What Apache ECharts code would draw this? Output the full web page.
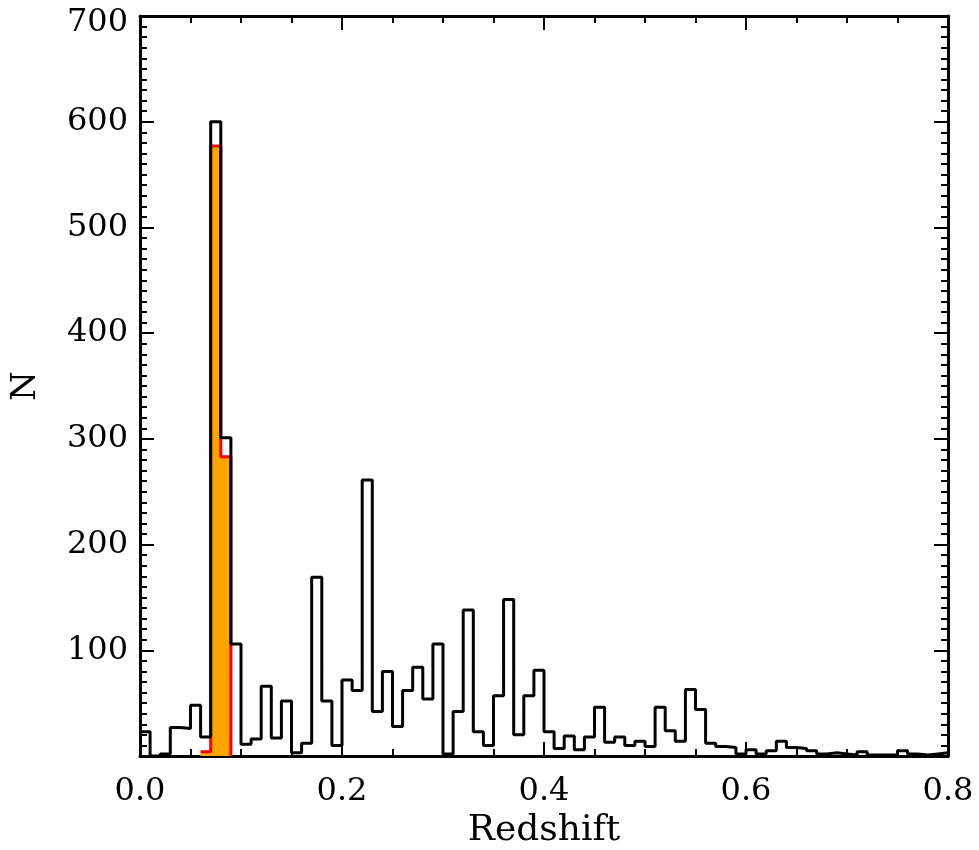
<!DOCTYPE html>
<html>
<head>
<meta charset="utf-8">
<script src="https://cdn.jsdelivr.net/npm/echarts@6/dist/echarts.min.js"></script>
<style>
html,body{margin:0;padding:0;background:#fff;}
#chart{width:979px;height:850px;}
</style>
</head>
<body>
<div id="chart"></div>
<script>
// Histogram bins: left edges start at binStart, width binWidth
const binStart = 0.0;
const binWidth = 0.01;
const allCounts = [
  23, 0, 2, 27, 26, 48, 18, 600, 301, 106,
  11, 16, 66, 17, 52, 3, 12, 169, 52, 10,
  72, 62, 261, 42, 80, 28, 62, 84, 54, 106,
  2, 42, 138, 23, 10, 57, 148, 20, 57, 81,
  23, 7, 19, 6, 18, 46, 13, 18, 10, 14,
  9, 46, 24, 14, 63, 44, 12, 9, 8, 2,
  6, 2, 5, 14, 8, 7, 5, 2, 3, 2,
  1, 4, 1, 1, 1, 5, 2, 1, 2, 3
];
// Highlighted subset (orange fill, red outline)
const subsetStart = 0.06;
const subsetCounts = [4, 577, 283];
// Axis settings
const xTicks = [0.0, 0.2, 0.4, 0.6, 0.8];
const yTicks = [0, 100, 200, 300, 400, 500, 600, 700];

function stepData(start, width, counts, closeToZero) {
  const d = counts.map((v, i) => [+(start + i * width).toFixed(4), v]);
  const endX = +(start + counts.length * width).toFixed(4);
  d.push([endX, counts[counts.length - 1]]);
  if (closeToZero) d.push([endX, 0]);
  return d;
}

const FONT = 'DejaVu Serif';
const chart = echarts.init(document.getElementById('chart'), null, {renderer: 'canvas'});

const axisCommonX = {
  type: 'value',
  min: xTicks[0],
  max: xTicks[xTicks.length - 1],
  interval: 0.2,
  axisLine: {show: true, onZero: false, lineStyle: {color: '#000', width: 3}},
  axisTick: {show: true, inside: true, length: 14, lineStyle: {color: '#000', width: 2}},
  minorTick: {show: true, splitNumber: 4, length: 7, lineStyle: {color: '#000', width: 2}},
  splitLine: {show: false},
  minorSplitLine: {show: false}
};
const axisCommonY = {
  type: 'value',
  min: yTicks[0],
  max: yTicks[yTicks.length - 1],
  interval: 100,
  axisLine: {show: true, onZero: false, lineStyle: {color: '#000', width: 3}},
  axisTick: {show: true, inside: true, length: 14, lineStyle: {color: '#000', width: 2}},
  minorTick: {show: true, splitNumber: 10, length: 7, lineStyle: {color: '#000', width: 2}},
  splitLine: {show: false},
  minorSplitLine: {show: false}
};

const yMax = yTicks[yTicks.length - 1];

const option = {
  animation: false,
  backgroundColor: '#fff',
  grid: {left: 140, right: 31, top: 16, bottom: 94, containLabel: false, outerBoundsMode: 'none'},
  xAxis: [
    Object.assign({}, axisCommonX, {
      position: 'bottom',
      axisLabel: {show: true, formatter: v => v.toFixed(1), fontFamily: FONT, fontSize: 32, color: '#000', margin: 20},
      name: 'Redshift',
      nameLocation: 'middle',
      nameGap: 51,
      nameTextStyle: {fontFamily: FONT, fontSize: 36, color: '#000'}
    }),
    Object.assign({}, axisCommonX, {
      position: 'top',
      axisLabel: {show: false}
    })
  ],
  yAxis: [
    Object.assign({}, axisCommonY, {
      position: 'left',
      axisLabel: {
        show: true,
        formatter: v => (v === 0 ? '' : (v === yMax ? '{t|' + v + '}' : String(v))),
        fontFamily: FONT, fontSize: 32, color: '#000', margin: 12,
        rich: {t: {fontFamily: FONT, fontSize: 32, color: '#000', padding: [14, 0, 0, 0]}}
      },
      name: 'N',
      nameLocation: 'middle',
      nameGap: 97,
      nameRotate: 90,
      nameTextStyle: {fontFamily: FONT, fontSize: 34, color: '#000'}
    }),
    Object.assign({}, axisCommonY, {
      position: 'right',
      axisLabel: {show: false}
    })
  ],
  series: [
    {
      type: 'line',
      step: 'end',
      xAxisIndex: 0,
      yAxisIndex: 0,
      data: stepData(subsetStart, binWidth, subsetCounts, true),
      showSymbol: false,
      symbol: 'none',
      lineStyle: {color: '#ff0000', width: 3},
      areaStyle: {color: '#ffa500', opacity: 1},
      z: 2
    },
    {
      type: 'line',
      step: 'end',
      xAxisIndex: 0,
      yAxisIndex: 0,
      data: stepData(binStart, binWidth, allCounts, false),
      showSymbol: false,
      symbol: 'none',
      lineStyle: {color: '#000', width: 3},
      z: 3
    }
  ]
};
chart.setOption(option);
</script>
</body>
</html>
